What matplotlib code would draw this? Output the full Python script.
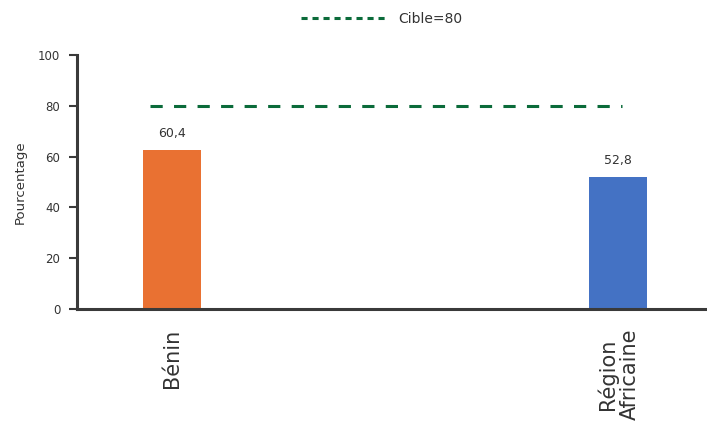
import matplotlib
matplotlib.use("Agg")
import matplotlib.pyplot as plt
from matplotlib.lines import Line2D

categories = ["Bénin", "Région\nAfricaine"]
values = [62.7, 52.0]
value_labels = ["60,4", "52,8"]
colors = ["#E97132", "#4472C4"]
target = 80
target_label = "Cible=80"
yticks = [0, 20, 40, 60, 80, 100]

plt.rcParams['font.family'] = ['DejaVu Sans']
W, H = 707, 421
fig = plt.figure(figsize=(W / 100, H / 100), dpi=100)
fig.patch.set_facecolor("white")
ax = fig.add_axes([77 / W, (H - 309) / H, (706 - 77) / W, (309 - 55) / H])

x = list(range(len(categories)))
ax.bar(x, values, width=0.13, color=colors, zorder=2)
for xi, v, lab in zip(x, values, value_labels):
    ax.annotate(lab, (xi, v), xytext=(0, 7), textcoords="offset points",
                ha="center", va="bottom", fontsize=9, color="#333333")

ax.hlines(target, -0.049, 1.009, colors="#0B6B3A", linewidth=2.2,
          linestyles=(0, (4, 3.7)), zorder=3)

ax.set_xlim(-0.2125, 1.197)
ax.set_ylim(0, 100)
ax.set_yticks(yticks)
ax.set_yticklabels([str(t) for t in yticks], fontsize=8.5, color="#333333")
ax.set_xticks(x)
ax.set_xticklabels(categories, rotation=90, fontsize=15, color="#333333",
                   linespacing=1.12, va="top")
ax.set_ylabel("Pourcentage", fontsize=9.5, color="#333333", labelpad=8)

for s in ["top", "right"]:
    ax.spines[s].set_visible(False)
for s in ["left", "bottom"]:
    ax.spines[s].set_color("#3a3a3a")
    ax.spines[s].set_linewidth(2.2)
ax.tick_params(axis="y", length=6, width=1.5, color="#3a3a3a", pad=6)
ax.tick_params(axis="x", length=0, pad=14)

handle = Line2D([], [], color="#0B6B3A", linewidth=2.2, linestyle=(0, (2, 1.6)))
fig.legend([handle], [target_label], loc="center", bbox_to_anchor=(382 / W, 1 - 19 / H),
           frameon=False, fontsize=10, handlelength=6.2, handletextpad=0.8,
           labelcolor="#333333")

fig.savefig("out.png", dpi=100, facecolor="white")
